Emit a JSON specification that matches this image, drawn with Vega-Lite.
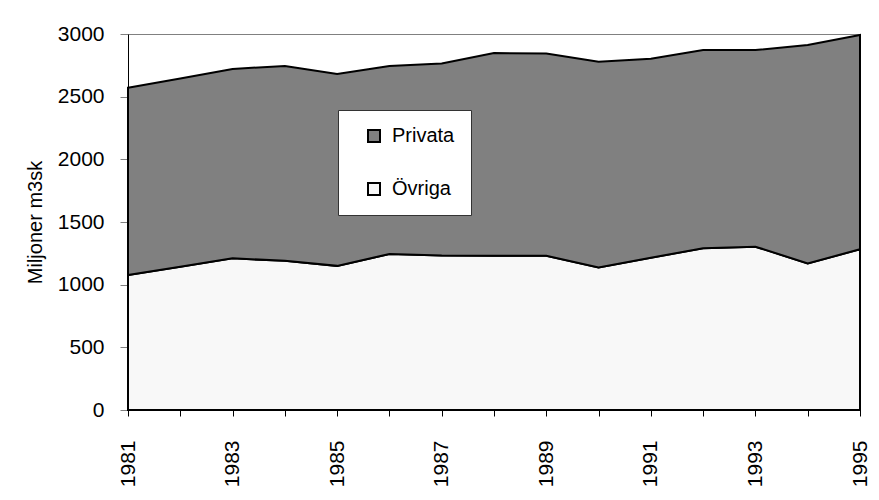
{
  "$schema": "https://vega.github.io/schema/vega-lite/v6.json",
  "width": 732,
  "height": 376,
  "autosize": {"type": "none"},
  "padding": {"left": 128, "top": 34, "right": 19, "bottom": 90},
  "background": "white",
  "config": {
    "font": "Liberation Sans",
    "view": {"stroke": "#808080", "strokeWidth": 1}
  },
  "data": {
    "values": [
      {"year": 1981, "category": "Övriga", "value": 1077},
      {"year": 1982, "category": "Övriga", "value": 1143},
      {"year": 1983, "category": "Övriga", "value": 1210},
      {"year": 1984, "category": "Övriga", "value": 1190},
      {"year": 1985, "category": "Övriga", "value": 1150},
      {"year": 1986, "category": "Övriga", "value": 1245},
      {"year": 1987, "category": "Övriga", "value": 1232},
      {"year": 1988, "category": "Övriga", "value": 1230},
      {"year": 1989, "category": "Övriga", "value": 1230},
      {"year": 1990, "category": "Övriga", "value": 1138},
      {"year": 1991, "category": "Övriga", "value": 1215},
      {"year": 1992, "category": "Övriga", "value": 1290},
      {"year": 1993, "category": "Övriga", "value": 1303},
      {"year": 1994, "category": "Övriga", "value": 1170},
      {"year": 1995, "category": "Övriga", "value": 1282},
      {"year": 1981, "category": "Privata", "value": 1495},
      {"year": 1982, "category": "Privata", "value": 1502},
      {"year": 1983, "category": "Privata", "value": 1511},
      {"year": 1984, "category": "Privata", "value": 1555},
      {"year": 1985, "category": "Privata", "value": 1531},
      {"year": 1986, "category": "Privata", "value": 1500},
      {"year": 1987, "category": "Privata", "value": 1533},
      {"year": 1988, "category": "Privata", "value": 1618},
      {"year": 1989, "category": "Privata", "value": 1615},
      {"year": 1990, "category": "Privata", "value": 1641},
      {"year": 1991, "category": "Privata", "value": 1588},
      {"year": 1992, "category": "Privata", "value": 1582},
      {"year": 1993, "category": "Privata", "value": 1569},
      {"year": 1994, "category": "Privata", "value": 1742},
      {"year": 1995, "category": "Privata", "value": 1710}
    ]
  },
  "mark": {"type": "area", "stroke": "black", "strokeWidth": 2, "strokeJoin": "miter", "opacity": 1},
  "encoding": {
    "x": {
      "field": "year",
      "type": "quantitative",
      "scale": {"domain": [1981, 1995], "nice": false, "zero": false},
      "axis": {
        "title": null,
        "values": [1981, 1982, 1983, 1984, 1985, 1986, 1987, 1988, 1989, 1990, 1991, 1992, 1993, 1994, 1995],
        "labelExpr": "(datum.value - 1981) % 2 == 0 ? datum.value : ''",
        "labelAngle": -90,
        "labelAlign": "right",
        "labelBaseline": "middle",
        "labelFontSize": 21,
        "labelColor": "black",
        "labelPadding": 24,
        "labelFlush": false,
        "labelOverlap": false,
        "tickSize": 6,
        "tickColor": "black",
        "domainColor": "black",
        "grid": false
      }
    },
    "y": {
      "field": "value",
      "type": "quantitative",
      "stack": "zero",
      "scale": {"domain": [0, 3000], "nice": false},
      "axis": {
        "title": "Miljoner m3sk",
        "titleFontSize": 20,
        "titleFontWeight": "normal",
        "titleColor": "black",
        "titlePadding": 12,
        "format": "d",
        "values": [0, 500, 1000, 1500, 2000, 2500, 3000],
        "labelFontSize": 21,
        "labelColor": "black",
        "labelPadding": 16,
        "tickSize": 8,
        "tickColor": "#808080",
        "domainColor": "black",
        "grid": false
      }
    },
    "color": {
      "field": "category",
      "type": "nominal",
      "scale": {"domain": ["Privata", "Övriga"], "range": ["#808080", "#f8f8f8"]},
      "legend": {
        "title": null,
        "orient": "none",
        "legendX": 210,
        "legendY": 76,
        "fillColor": "white",
        "strokeColor": "#333333",
        "padding": 16,
        "symbolType": "square",
        "symbolSize": 144,
        "symbolStrokeColor": "black",
        "symbolStrokeWidth": 2,
        "symbolOffset": 10,
        "symbolOpacity": 1,
        "labelFontSize": 20,
        "labelColor": "black",
        "labelOffset": 8,
        "labelExpr": "datum.label + '\u00a0\u00a0\u00a0\u00a0\u00a0\u00a0'",
        "rowPadding": 33
      }
    },
    "order": {"field": "category", "sort": "descending"}
  }
}
